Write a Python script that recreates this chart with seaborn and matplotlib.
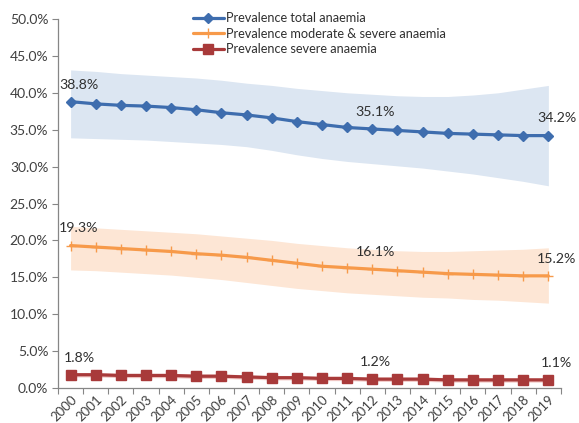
import matplotlib
matplotlib.use("Agg")
import matplotlib.pyplot as plt
from matplotlib.ticker import FixedLocator, FuncFormatter, NullFormatter
import numpy as np
import pandas as pd
import seaborn as sns

# Anaemia prevalence estimates (%) with uncertainty intervals, 2000-2019
years = [str(y) for y in range(2000, 2020)]

total = [38.8, 38.5, 38.3, 38.2, 38.0, 37.7, 37.3, 37.0, 36.6, 36.1,
         35.7, 35.3, 35.1, 34.9, 34.7, 34.5, 34.4, 34.3, 34.2, 34.2]
total_hi = [43.1, 42.9, 42.6, 42.4, 42.2, 42.0, 41.7, 41.3, 41.0, 40.6,
            40.3, 40.0, 39.8, 39.6, 39.5, 39.5, 39.7, 40.0, 40.5, 41.0]
total_lo = [33.9, 33.8, 33.7, 33.6, 33.4, 33.2, 33.0, 32.7, 32.2, 31.6,
            31.1, 30.7, 30.4, 30.1, 29.8, 29.4, 29.0, 28.5, 28.0, 27.4]

moderate = [19.3, 19.1, 18.9, 18.7, 18.5, 18.2, 18.0, 17.7, 17.3, 16.9,
            16.5, 16.3, 16.1, 15.9, 15.7, 15.5, 15.4, 15.3, 15.2, 15.2]
moderate_hi = [21.9, 21.7, 21.5, 21.3, 21.1, 20.9, 20.6, 20.3, 20.0, 19.6,
               19.3, 19.0, 18.8, 18.6, 18.5, 18.5, 18.6, 18.7, 18.8, 19.0]
moderate_lo = [16.0, 15.9, 15.7, 15.5, 15.3, 15.0, 14.7, 14.3, 13.9, 13.5,
               13.2, 12.9, 12.7, 12.5, 12.3, 12.2, 12.0, 11.9, 11.7, 11.5]

severe = [1.8, 1.8, 1.7, 1.7, 1.7, 1.6, 1.6, 1.5, 1.4, 1.4,
          1.3, 1.3, 1.2, 1.2, 1.2, 1.1, 1.1, 1.1, 1.1, 1.1]
severe_hi = [2.1, 2.1, 2.0, 2.0, 2.0, 1.9, 1.9, 1.8, 1.7, 1.7,
             1.6, 1.6, 1.5, 1.5, 1.5, 1.4, 1.4, 1.4, 1.4, 1.4]
severe_lo = [1.5, 1.5, 1.4, 1.4, 1.4, 1.3, 1.3, 1.2, 1.1, 1.1,
             1.0, 1.0, 0.9, 0.9, 0.9, 0.8, 0.8, 0.8, 0.8, 0.8]

labels = ["Prevalence total anaemia",
          "Prevalence moderate & severe anaemia",
          "Prevalence severe anaemia"]
labelled_years = ["2000", "2012", "2019"]

sns.set_theme(style="white")
plt.rcParams["font.family"] = ["Lato", "DejaVu Sans"]

fig = plt.figure(figsize=(5.79, 4.23), dpi=100)
ax = fig.add_axes([0.1002, 0.0827, 0.8686, 0.8724])

pos = np.arange(len(years))
series = [
    (total, total_lo, total_hi, "#3E6DAE", "#DCE6F2", "D", 5.5, labels[0]),
    (moderate, moderate_lo, moderate_hi, "#F79A4A", "#FDE6D5", "+", 7, labels[1]),
    (severe, severe_lo, severe_hi, "#A83A3A", "#F2C9C6", "s", 6.5, labels[2]),
]

for vals, lo, hi, col, band, mk, ms, lab in series:
    ax.fill_between(pos, lo, hi, color=band, lw=0, zorder=1)
    df = pd.DataFrame({"x": pos, "y": vals})
    sns.lineplot(data=df, x="x", y="y", ax=ax, color=col, lw=2.3,
                 marker=mk, markersize=ms, markeredgecolor=col,
                 markeredgewidth=1.0, label=lab, zorder=3)
    for yr in labelled_years:
        i = years.index(yr)
        dx = 6 if yr in ("2000", "2019") else 2
        ax.annotate(f"{vals[i]:.1f}%", (pos[i], vals[i]), xytext=(dx, 8),
                    textcoords="offset points", ha="center", va="bottom",
                    fontsize=10.2, color="#303030", annotation_clip=False)

ax.set_xlim(-0.5, len(years) - 0.5)
ax.set_ylim(0, 50)
ax.set_xlabel("")
ax.set_ylabel("")

ax.xaxis.set_major_locator(FixedLocator(pos))
ax.set_xticklabels(years, rotation=45, ha="right", rotation_mode="anchor",
                   fontsize=9.5, color="#404040")
ax.xaxis.set_minor_locator(FixedLocator(np.arange(-0.5, len(years), 1.0)))
ax.xaxis.set_minor_formatter(NullFormatter())
ax.tick_params(axis="x", which="major", length=0, pad=4)
ax.tick_params(axis="x", which="minor", length=4, width=0.8,
               color="#868686", direction="out", bottom=True)

ax.set_yticks(np.arange(0, 50.1, 5))
ax.yaxis.set_major_formatter(FuncFormatter(lambda v, p: f"{v:.1f}%"))
ax.tick_params(axis="y", length=4, width=0.8, color="#868686",
               direction="out", left=True, labelsize=10,
               labelcolor="#404040", pad=3)

for side in ("top", "right"):
    ax.spines[side].set_visible(False)
for side in ("left", "bottom"):
    ax.spines[side].set_color("#868686")
    ax.spines[side].set_linewidth(0.9)

handles, labs = ax.get_legend_handles_labels()
ax.legend(handles, labs, loc="upper left", bbox_to_anchor=(193 / 579, 1 - 12 / 423),
          bbox_transform=fig.transFigure, frameon=False, fontsize=9.2,
          handlelength=2.4, handletextpad=0.15, labelspacing=0.28,
          borderpad=0, borderaxespad=0, labelcolor="#303030")

fig.savefig("out.png", dpi=100)
